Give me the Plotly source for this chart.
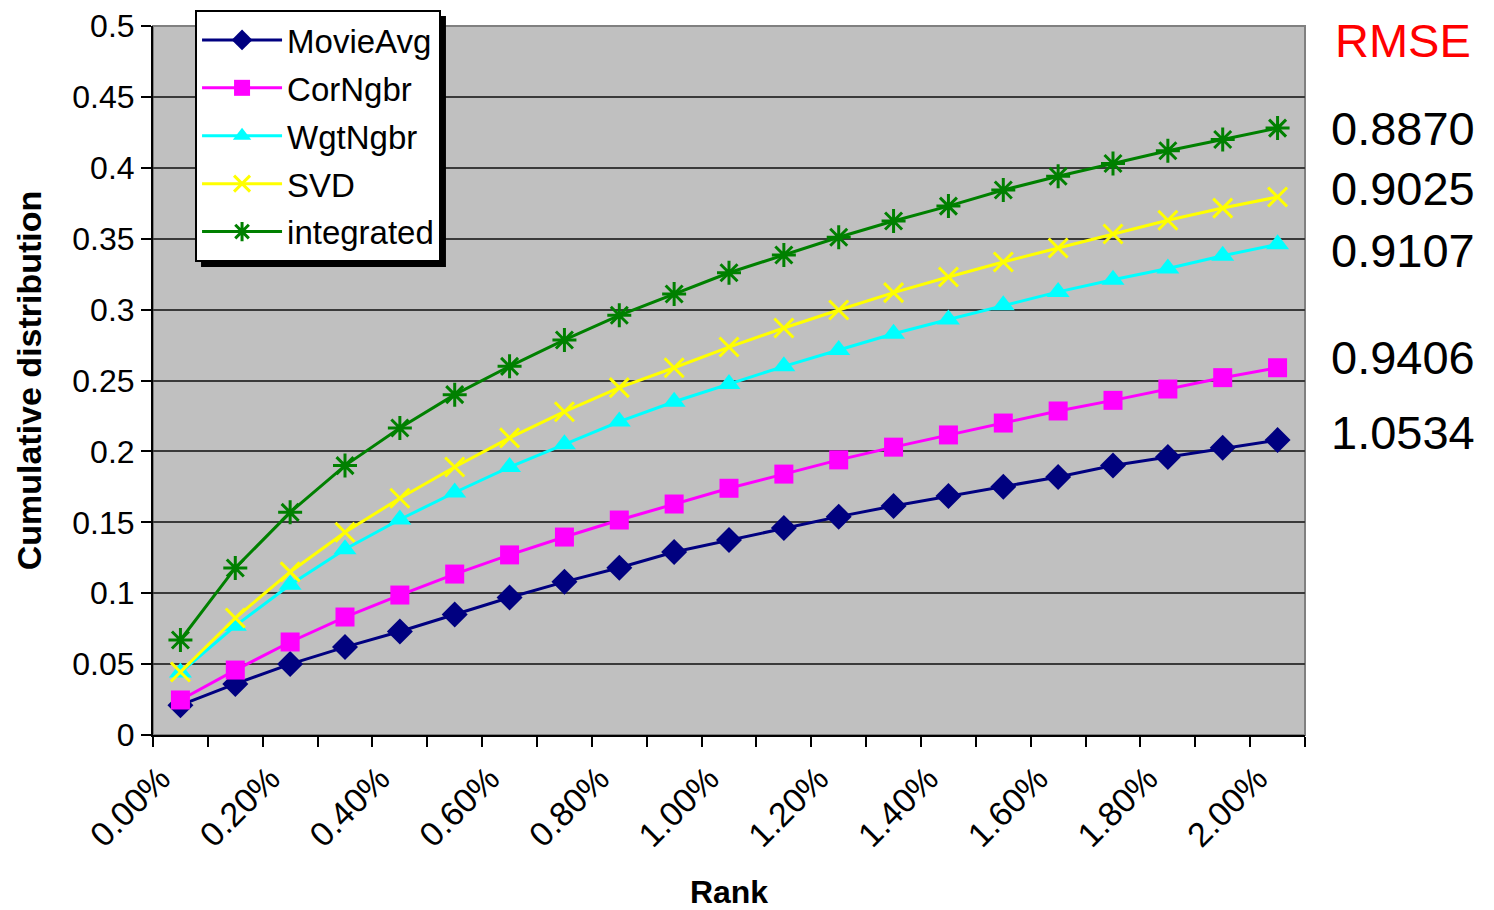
import plotly.graph_objects as go

categories = ["0.00%", "0.10%", "0.20%", "0.30%", "0.40%", "0.50%", "0.60%", "0.70%",
              "0.80%", "0.90%", "1.00%", "1.10%", "1.20%", "1.30%", "1.40%", "1.50%",
              "1.60%", "1.70%", "1.80%", "1.90%", "2.00%"]

movie_avg = [0.021, 0.036, 0.050, 0.062, 0.073, 0.085, 0.097, 0.108, 0.118, 0.129, 0.1375,
             0.146, 0.154, 0.1615, 0.1685, 0.175, 0.182, 0.190, 0.196, 0.2025, 0.208]
cor_ngbr = [0.0247, 0.0458, 0.0656, 0.0832, 0.0987, 0.1135, 0.127, 0.1396, 0.1516, 0.1629,
            0.174, 0.184, 0.194, 0.203, 0.2116, 0.220, 0.2285, 0.236, 0.244, 0.252, 0.259]
wgt_ngbr = [0.044, 0.077, 0.106, 0.131, 0.152, 0.171, 0.189, 0.205, 0.221, 0.235, 0.2475,
            0.260, 0.2715, 0.283, 0.293, 0.303, 0.3125, 0.321, 0.329, 0.338, 0.346]
svd = [0.0444, 0.0825, 0.115, 0.143, 0.167, 0.189, 0.2095, 0.228, 0.245, 0.259, 0.2736,
       0.287, 0.2997, 0.312, 0.323, 0.3336, 0.3434, 0.3533, 0.363, 0.3716, 0.3794]
integrated = [0.067, 0.1178, 0.157, 0.190, 0.2165, 0.240, 0.260, 0.2786, 0.296, 0.311, 0.326,
              0.3385, 0.351, 0.3625, 0.373, 0.3843, 0.394, 0.403, 0.412, 0.420, 0.428]

rmse_labels = ["0.8870", "0.9025", "0.9107", "0.9406", "1.0534"]
rmse_y = [0.856, 0.7715, 0.684, 0.533, 0.427]

x_idx = list(range(len(categories)))
FONT = "Liberation Sans, Arial, sans-serif"

series = [
    ("MovieAvg", movie_avg, "#000080", "diamond", 20, 0),
    ("CorNgbr", cor_ngbr, "#FF00FF", "square", 19, 0),
    ("WgtNgbr", wgt_ngbr, "#00FFFF", "triangle-up", 20, 0),
    ("SVD", svd, "#FFFF00", "x-thin-open", 19, 3),
    ("integrated", integrated, "#008000", "asterisk-open", 20, 3),
]

fig = go.Figure()
for i, (name, vals, color, sym, size, lw) in enumerate(series):
    marker = dict(symbol=sym, size=size, color=color)
    if lw:
        marker["line"] = dict(color=color, width=lw)
    else:
        marker["line"] = dict(width=0)
    fig.add_trace(go.Scatter(
        x=x_idx, y=vals, name=name, mode="lines+markers",
        line=dict(color=color, width=3), marker=marker,
        legendgroup=f"g{i}",
    ))

fig.update_layout(
    width=1486, height=902,
    margin=dict(l=145, r=189, t=18, b=175, autoexpand=False),
    paper_bgcolor="white", plot_bgcolor="#C0C0C0",
    font=dict(family=FONT, color="black", size=30),
    showlegend=True,
    legend=dict(
        x=0.0365, y=1.0226, xanchor="left", yanchor="top",
        bgcolor="white", bordercolor="black", borderwidth=2,
        font=dict(family=FONT, size=33, color="black"),
        traceorder="grouped", tracegroupgap=2, itemwidth=80,
    ),
    xaxis=dict(
        range=[-0.5, 20.5], tickmode="array",
        tickvals=x_idx[::2], ticktext=categories[::2], tickangle=-45,
        ticks="", showgrid=False, zeroline=False,
        showline=True, linecolor="black", linewidth=2,
        tickfont=dict(size=34), ticklabelshift=-20, ticklabelstandoff=8,
        minor=dict(tickmode="array", tickvals=[v - 0.5 for v in range(22)],
                   ticks="outside", ticklen=10, tickwidth=2, tickcolor="black", showgrid=False),
        title=dict(text="<b>Rank</b>", font=dict(size=32), standoff=30),
    ),
    yaxis=dict(
        range=[0, 0.5], dtick=0.05, tick0=0,
        ticks="outside", ticklen=10, tickwidth=2, tickcolor="black",
        showgrid=True, gridcolor="#3a3a3a", gridwidth=1.5, zeroline=False,
        showline=True, linecolor="black", linewidth=2,
        tickfont=dict(size=32),
        title=dict(text="<b>Cumulative distribution</b>", font=dict(size=34), standoff=20),
    ),
)

# plot area border (gray on top/right)
fig.add_shape(type="rect", xref="paper", yref="paper", x0=0, x1=1, y0=0, y1=1,
              line=dict(color="#808080", width=2), layer="below")
# legend drop shadow
fig.add_shape(type="rect", xref="paper", yref="paper", x0=0.0417, x1=0.2543, y0=0.660, y1=1.0141,
              fillcolor="black", line=dict(width=0), layer="above")

fig.add_annotation(text="RMSE", xref="paper", yref="paper", x=1.085, y=0.980,
                   xanchor="center", yanchor="middle",
                   showarrow=False, font=dict(size=47, color="#FF0000", family=FONT))
for lab, yy in zip(rmse_labels, rmse_y):
    fig.add_annotation(text=lab, xref="paper", yref="paper", x=1.085, y=yy,
                       xanchor="center", yanchor="middle",
                       showarrow=False, font=dict(size=47, color="black", family=FONT))

fig.write_html("out.html")
